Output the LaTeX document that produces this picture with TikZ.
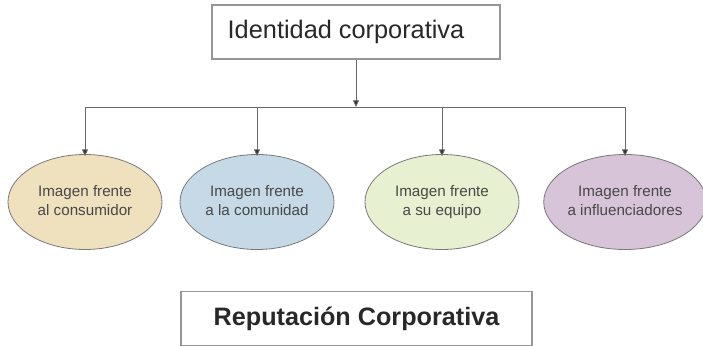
\documentclass[tikz,border=0pt]{standalone}
\usepackage{fontspec}
\setmainfont{Liberation Sans}
\usepackage{xcolor}
\usetikzlibrary{arrows.meta, shapes.geometric}
\definecolor{linecolor}{RGB}{150,150,150}
\definecolor{textcolor}{RGB}{40,40,40}
\definecolor{consumercolor}{RGB}{239,224,190}
\definecolor{communitycolor}{RGB}{197,218,230}
\definecolor{teamcolor}{RGB}{231,240,208}
\definecolor{influencercolor}{RGB}{216,196,216}

\begin{document}
\begin{tikzpicture}[
    x=0.75pt, y=0.75pt,
    titlebox/.style={
        rectangle,
        draw=linecolor,
        fill=white,
        line width=0.8pt,
        text=textcolor,
        inner sep=0pt
    },
    imagebox/.style={
        ellipse,
        draw=linecolor!80!black,
        line width=0.6pt,
        minimum width=154*0.75pt,
        minimum height=95*0.75pt,
        inner sep=0pt,
        align=center,
        text=textcolor!85!white,
        font=\fontsize{11.4}{14}\selectfont
    },
    line/.style={
        draw=linecolor!70!black,
        line width=0.6pt
    },
    arrow/.style={
        line,
        -{Triangle[length=5pt,width=4.5pt,fill=black!80]}
    }
]

% Frame
\useasboundingbox (0,0) rectangle (703,-346);

% Top box
\node[titlebox, minimum width=288*0.75pt, minimum height=54*0.75pt,
      font=\fontsize{19}{22}\selectfont] (identity) at (356,-32)
    {Identidad corporativa\kern15pt};

% Bus
\coordinate (bus) at (356,-107);

% Images
\node[imagebox, fill=consumercolor] (consumer) at (85,-202)
    {Imagen frente\strut\\al consumidor\strut};
\node[imagebox, fill=communitycolor] (community) at (257,-202)
    {Imagen frente\strut\\a la comunidad\strut};
\node[imagebox, fill=teamcolor] (team) at (442,-202)
    {Imagen frente\strut\\a su equipo\strut};
\node[imagebox, fill=influencercolor] (influencer) at (625,-202)
    {Imagen frente\strut\\a influenciadores\strut};

% Bottom box
\node[titlebox, minimum width=351*0.75pt, minimum height=54*0.75pt,
      font=\fontsize{18.9}{22}\selectfont\bfseries] (reputation) at (356.5,-318.5)
    {Reputación Corporativa};

% Arrows
\draw[arrow] (identity) -- (bus);
\draw[line] (consumer.north |- bus) -- (influencer.north |- bus);
\draw[arrow] (consumer.north |- bus) -- ([yshift=-1.5pt]consumer.north);
\draw[arrow] (community.north |- bus) -- ([yshift=-1.5pt]community.north);
\draw[arrow] (team.north |- bus) -- ([yshift=-1.5pt]team.north);
\draw[arrow] (influencer.north |- bus) -- ([yshift=-1.5pt]influencer.north);

\end{tikzpicture}
\end{document}
